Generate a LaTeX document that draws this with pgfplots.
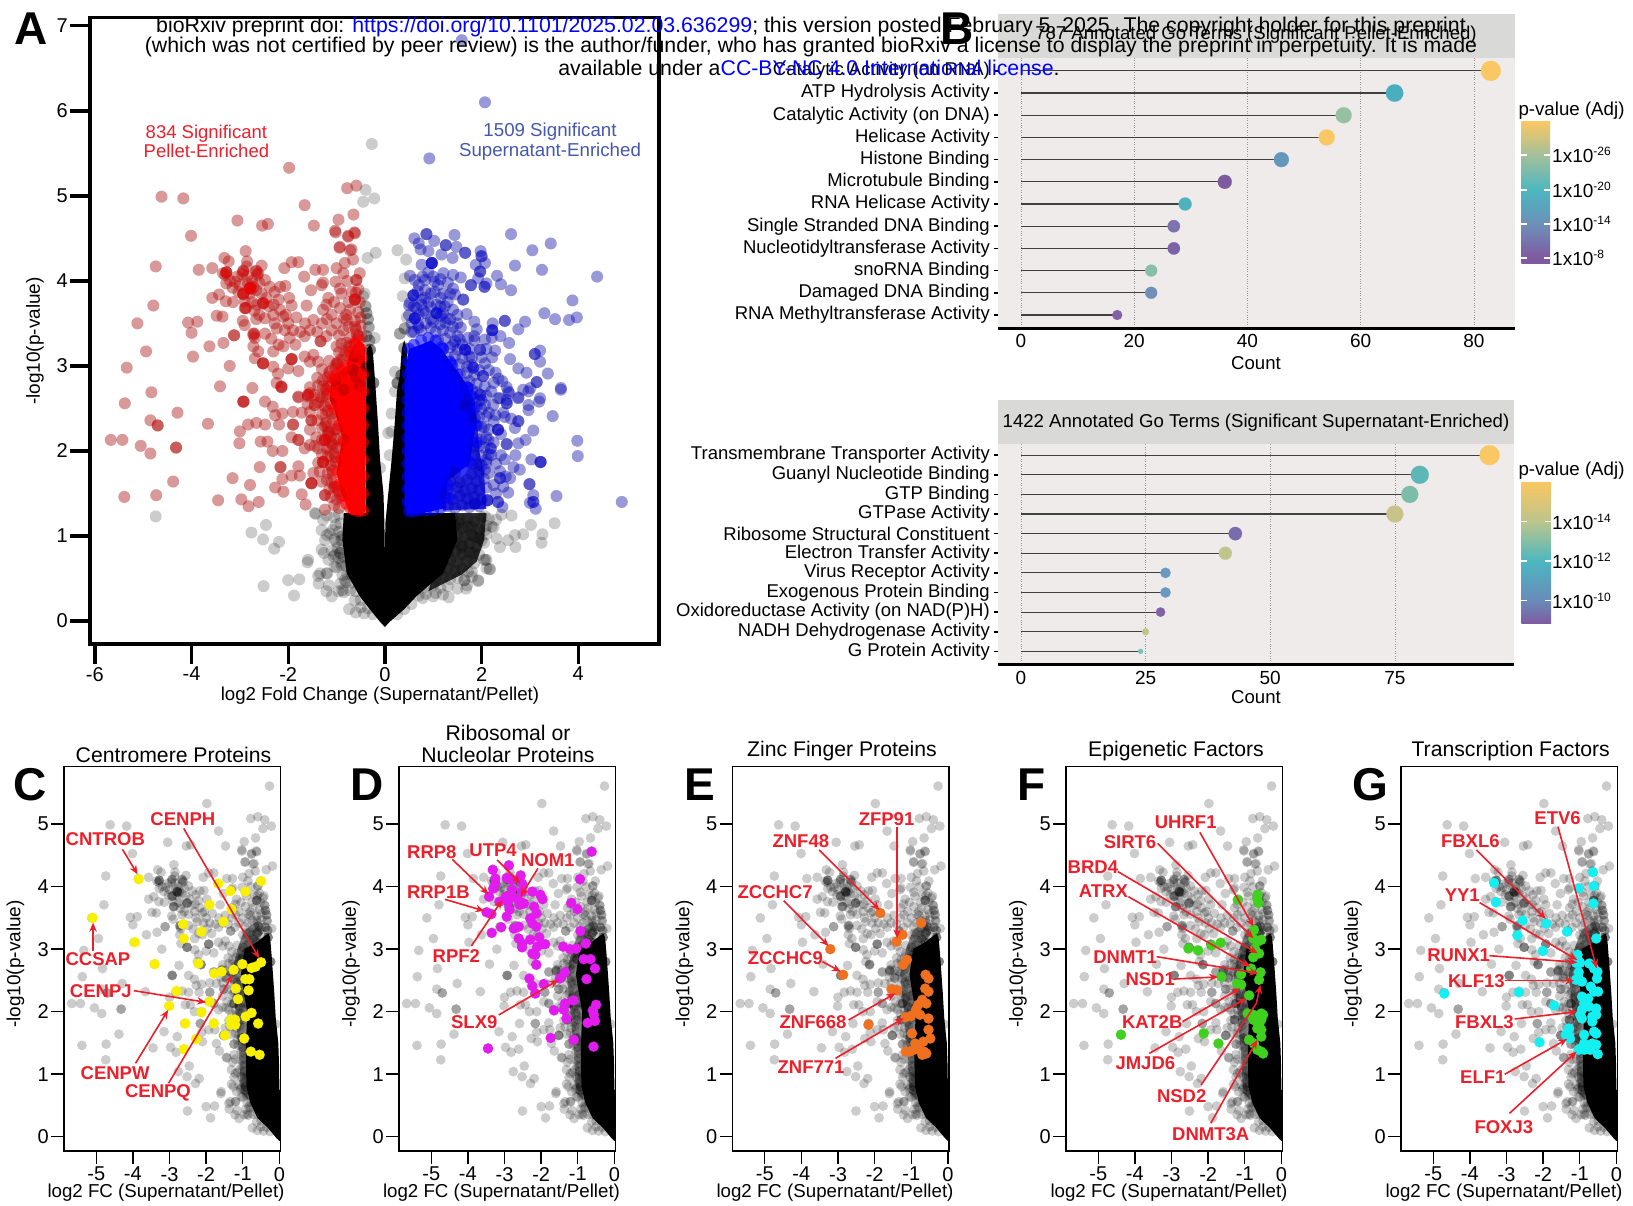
\documentclass[border=0pt]{standalone}
\usepackage{fontspec}
\setmainfont{Liberation Sans}
\usepackage{pgfplots}
\usepackage{pgfplotstable}
\pgfplotsset{compat=1.18}
\usetikzlibrary{arrows.meta}
\definecolor{labred}{HTML}{ED1F2A}
\definecolor{ablue}{HTML}{4458AE}
\definecolor{stripc}{HTML}{D9D9D7}
\definecolor{panelc}{HTML}{EEEBEA}
\definecolor{yel}{HTML}{F9F000}
\definecolor{mag}{HTML}{E21CEE}
\definecolor{ora}{HTML}{EF701E}
\definecolor{gre}{HTML}{40D01E}
\definecolor{cya}{HTML}{14F0F2}
\definecolor{c1}{HTML}{F9C763}\definecolor{c2}{HTML}{4AAEBF}\definecolor{c3}{HTML}{97BFA1}
\definecolor{c4}{HTML}{6398B8}\definecolor{c5}{HTML}{7D5A9E}\definecolor{c6}{HTML}{4EB1BC}
\definecolor{c7}{HTML}{7B74AE}\definecolor{c8}{HTML}{7C62A6}\definecolor{c9}{HTML}{88BFAA}
\definecolor{c10}{HTML}{7090B8}\definecolor{c11}{HTML}{8060A6}
\definecolor{d2}{HTML}{5DB7B6}\definecolor{d3}{HTML}{7CBDA9}\definecolor{d4}{HTML}{C8C489}
\definecolor{d5}{HTML}{7A6DAE}\definecolor{d6}{HTML}{BFC68C}\definecolor{d7}{HTML}{6999BE}
\definecolor{d8}{HTML}{8462A8}\definecolor{d9}{HTML}{70C4BA}
\definecolor{bb}{HTML}{7F5AA0}\definecolor{bc}{HTML}{6C90B8}\definecolor{bd}{HTML}{4CB7C0}\definecolor{be}{HTML}{A5C09A}
\definecolor{bf}{HTML}{BBC58C}\definecolor{bg}{HTML}{6A8ABA}
\pgfdeclareverticalshading{cbone}{100bp}{color(0bp)=(bb);color(27bp)=(bb);color(39bp)=(bc);color(51bp)=(bd);color(63.5bp)=(be);color(75bp)=(c1);color(100bp)=(c1)}
\pgfdeclareverticalshading{cbtwo}{100bp}{color(0bp)=(bb);color(25bp)=(bb);color(33.3bp)=(bg);color(47.3bp)=(bd);color(61.3bp)=(bf);color(75bp)=(c1);color(100bp)=(c1)}
\newcommand\fnt[1]{\fontsize{#1}{#1}\selectfont}

% points
\pgfplotstableread[row sep=crcr]{x y\\
-1.98 5.33\\ -4.62 4.99\\ -4.17 4.97\\ -3.05 4.71\\ -2.54 4.65\\ -2.42 4.67\\ -1.66 4.89\\ -1.47 4.65\\ -.78 5.09\\ -.59 5.12\\ -.65 4.78\\ -.96 4.72\\ -1.03 4.59\\ -.63 4.57\\ -.76 4.52\\ -.94 4.39\\ -.72 4.36\\
-4.01 4.53\\ -4.74 4.17\\ -4.79 3.71\\ -5.12 3.50\\ -4.07 3.51\\ -3.88 3.52\\ -4.0 3.39\\ -4.94 3.17\\ -5.34 2.98\\ -4.83 2.69\\ -5.38 2.56\\ -3.85 4.13\\ -3.57 4.15\\ -3.32 4.27\\ -2.88 4.35\\ -3.23 4.23\\ -2.85 4.23\\ -2.55 4.18\\ -3.28 4.10\\ -3.28 4.10\\ -3.35 4.09\\ -2.93 4.11\\ -2.86 4.17\\ -2.66 4.11\\ -2.62 4.09\\ -3.28 3.97\\ -3.1 3.99\\ -2.83 3.97\\ -2.72 3.93\\ -2.79 3.91\\ -2.48 4.01\\ -3.03 3.87\\ -2.93 3.84\\ -2.79 3.85\\ -2.66 3.89\\ -2.38 3.93\\ -2.28 3.87\\ -2.17 3.93\\ -2.06 3.94\\ -3.57 3.80\\ -3.43 3.84\\ -3.29 3.76\\ -3.14 3.75\\ -2.9 3.68\\ -2.9 3.76\\ -2.66 3.72\\ -2.52 3.73\\ -1.98 3.80\\ -1.93 3.71\\ -1.62 3.71\\ -3.48 3.59\\ -3.36 3.58\\ -2.94 3.53\\ -2.9 3.48\\ -2.66 3.55\\ -2.48 3.56\\ -2.31 3.60\\ -2.17 3.66\\ -2.1 3.58\\ -2.28 3.5\\ -2.24 3.44\\ -1.83 3.57\\ -1.48 3.54\\ -2.72 3.38\\ -2.69 3.33\\ -2.48 3.38\\ -3.12 3.36\\ -3.12 3.36\\ -3.34 3.27\\ -3.63 3.23\\ -3.97 3.11\\ -3.21 3.0\\ -3.41 2.76\\ -2.74 2.74\\ -2.93 2.58\\ -2.93 2.58\\ -2.48 2.58\\ -2.72 3.23\\ -2.62 3.17\\ -2.69 3.09\\ -2.52 3.03\\ -2.52 3.03\\ -2.31 3.17\\ -2.1 3.23\\ -1.97 3.33\\ -2.07 3.42\\ -1.9 3.42\\ -1.93 3.08\\ -1.93 3.08\\ -2.31 2.99\\ -2.21 2.91\\ -1.79 2.94\\ -2 2.97\\ -2.24 2.8\\ -2.14 2.75\\ -2.14 2.75\\ -1.66 3.11\\ -1.48 3.13\\ -1.38 3.05\\ -1.55 3.05\\ -1.66 3.35\\ -1.55 3.42\\ -1.33 3.29\\ -1.33 3.29\\ -1.28 3.66\\ -1.17 3.8\\ -1.21 3.72\\ -1.53 3.89\\ -1.31 3.95\\ -1.28 3.98\\ -1.67 4.05\\ -1.44 4.13\\ -1.28 4.13\\ -2.08 4.15\\ -1.93 4.22\\ -1.79 4.22\\ -1 4.15\\ -.86 4.09\\ -1.02 3.99\\ -.93 3.91\\ -.52 4.09\\ -.59 4.01\\ -.59 4.01\\ -.62 3.78\\ -.62 3.78\\ -.62 3.78\\ -.69 3.87\\ -.93 4.4\\ -.69 4.37\\ -.66 4.25\\ -.83 4.21\\ -1.02 4.57\\ -.76 4.53\\ -.62 4.56\\ -.93 3.68\\ -.79 3.54\\ -.86 3.42\\ -.62 3.46\\ -1.1 3.42\\ -1.21 3.35\\ -.55 3.35\\ -.79 3.27\\ -1 3.23\\ -.62 3.11\\ -.62 3.11\\ -.52 3.11\\ -1.03 2.84\\ -1.03 2.84\\ -1.03 2.84\\ -.66 2.95\\ -.66 2.95\\ -1 3.03\\ -1.28 2.76\\ -1.55 2.68\\ -1.79 2.64\\ -1.59 2.66\\ -1.59 2.66\\ -1.34 2.64\\ -.86 2.72\\ -.52 2.76\\ -.59 2.87\\
-4.29 2.45\\ -4.85 2.36\\ -4.7 2.3\\ -4.7 2.3\\ -3.66 2.32\\ -5.67 2.13\\ -5.43 2.13\\ -5.05 2.06\\ -4.85 1.97\\ -4.32 2.04\\ -4.32 2.04\\ -4.38 1.64\\ -5.39 1.46\\ -4.73 1.48\\ -3.15 1.68\\ -3.45 1.42\\ -2.79 1.6\\ -2.97 1.43\\ -2.82 1.35\\ -2.61 1.40\\ -2.59 1.81\\ -3.01 2.09\\ -3 2.23\\ -2.83 2.31\\ -2.66 2.33\\ -2.48 2.31\\ -2.92 2.58\\ -2.32 2.52\\ -2.27 2.42\\ -2.12 2.44\\ -2.19 2.31\\ -1.9 2.46\\ -1.72 2.45\\ -1.9 2.31\\ -1.9 2.31\\ -2.57 2.11\\ -2.43 2.11\\ -2.32 2.0\\ -2.12 2.0\\ -1.93 2.16\\ -1.79 2.13\\ -1.79 2.13\\ -1.55 2.07\\ -1.66 2.03\\ -2.16 1.81\\ -2.16 1.81\\ -1.79 1.82\\ -1.93 1.71\\ -2.12 1.67\\ -1.76 1.71\\ -1.52 1.62\\ -1.52 1.62\\ -1.52 1.62\\ -2.27 1.57\\ -2.1 1.52\\ -1.72 1.49\\ -1.64 1.37\\ -1.24 1.31\\ -1.24 1.48\\ -1.24 1.48\\ -1.28 1.87\\ -1.28 1.87\\ -1.28 1.87\\ -1.24 2.13\\ -1.24 2.13\\ -1.24 2.13\\ -1.52 2.36\\ -1.52 2.36\\ -1.45 2.54\\ -1.45 2.54\\ -1.59 2.64\\ -1.79 2.63\\ -1.24 2.29\\ -1.17 2.21\\ -1.1 2.09\\ -1.38 2.03\\ -1.03 1.93\\ -1.48 1.74\\ -1.31 1.64\\ -1.03 1.58\\ -1.03 2.25\\ -.86 2.13\\
-3.28 4.1\\ -3.3 4.07\\ -2.93 4.12\\ -2.95 4.08\\ -2.66 4.12\\ -2.64 4.07\\ -2.79 3.92\\ -2.79 3.92\\ -2.79 3.92\\ -2.76 3.9\\ -2.93 3.85\\ -2.93 3.85\\ -2.52 3.74\\ -2.52 3.74\\ -2.88 3.68\\ -2.88 3.68\\ -2.72 3.36\\ -2.7 3.38\\ -2.52 3.03\\ -1.93 3.08\\ -2.14 2.76\\ -3.2 4.0\\ -3.15 3.92\\ -3.05 4.05\\ -3.0 3.95\\ -2.85 4.05\\ -2.75 4.0\\ -2.6 3.98\\ -2.55 3.85\\ -2.45 3.8\\ -2.4 3.7\\ -2.75 3.75\\ -2.7 3.65\\ -2.6 3.6\\ -2.3 3.72\\ -2.2 3.78\\ -2.05 3.6\\ -2.0 3.5\\ -2.35 3.32\\ -2.2 3.25\\ -1.85 3.25\\ -1.75 3.4\\ -1.65 3.5\\ -1.4 3.4\\ -1.3 3.5\\ -1.1 3.6\\ -1.05 3.75\\ -1.2 3.55\\ -1.0 3.5\\ -.9 3.85\\ -.78 4.0\\ -.75 3.75\\ -.8 3.6\\
}\redT

% dense pellet-enriched band
\pgfplotstableread[row sep=crcr]{x y\\
-1.05 1.36\\ -.95 1.33\\ -1.12 1.46\\ -1.0 1.43\\ -.9 1.47\\ -1.15 1.55\\ -1.05 1.57\\ -.95 1.53\\ -1.2 1.66\\ -1.1 1.63\\ -1.35 1.76\\ -1.18 1.74\\ -1.08 1.77\\ -1.38 1.86\\ -1.12 1.83\\ -1.02 1.87\\ -1.3 1.96\\ -1.18 1.94\\ -1.05 1.97\\ -1.45 2.06\\ -1.2 2.03\\ -1.08 2.07\\ -.98 2.04\\ -1.42 2.16\\ -1.3 2.13\\ -1.12 2.17\\ -1.0 2.14\\ -1.55 2.25\\ -1.3 2.27\\ -1.15 2.23\\ -.98 2.26\\ -1.4 2.36\\ -1.22 2.33\\ -1.08 2.37\\ -1.55 2.46\\ -1.3 2.43\\ -1.18 2.47\\ -1.1 2.44\\ -1.6 2.55\\ -1.38 2.57\\ -1.25 2.53\\ -1.12 2.56\\ -1.45 2.66\\ -1.3 2.63\\ -1.2 2.67\\ -1.55 2.75\\ -1.38 2.77\\ -1.22 2.73\\ -1.14 2.76\\ -1.4 2.86\\ -1.28 2.83\\ -1.18 2.87\\ -1.3 2.96\\ -1.15 2.93\\ -1.02 2.97\\ -.9 2.94\\ -1.15 3.06\\ -.98 3.03\\ -.88 3.07\\ -.95 3.16\\ -.82 3.13\\ -.72 3.17\\ -.9 3.26\\ -.75 3.23\\ -.6 3.27\\ -.95 3.36\\ -.72 3.33\\ -.58 3.37\\ -.48 3.34\\ -.75 3.46\\ -.6 3.43\\ -.5 3.47\\ -.85 3.56\\ -.62 3.53\\ -.5 3.57\\ -.72 3.66\\ -.55 3.63\\ -.52 3.75\\ -.55 3.9\\ -.6 3.86\\
}\bandR
\pgfplotstableread[row sep=crcr]{x y\\
-.45 1.3\\ -.55 1.29\\ -.65 1.31\\ -.72 1.33\\ -.8 1.38\\ -.87 1.47\\ -.95 1.6\\ -.98 1.75\\ -.9 1.9\\ -.85 2.1\\ -.95 2.3\\ -1.05 2.5\\ -1.12 2.7\\ -1.08 2.85\\ -.8 3.0\\ -.7 3.15\\ -.55 3.3\\ -.45 1.5\\ -.45 1.7\\ -.45 1.9\\ -.45 2.1\\ -.45 2.3\\ -.45 2.5\\ -.45 2.7\\ -.45 2.9\\ -.47 3.1\\ -.5 3.2\\ -.9 2.95\\ -1 2.9\\ -.62 3.25\\
}\edgeR
\pgfplotstableread[row sep=crcr]{x y\\
-.95 1.25\\ -1.05 1.22\\ -1.2 1.24\\ -.92 1.15\\ -1.02 1.13\\ -.95 1.05\\ -1.08 1.07\\ -.9 .95\\ -1.0 .93\\ -.88 .85\\ -.98 .86\\ -1.1 .83\\ -.85 .75\\ -.95 .74\\ -.8 .65\\ -.9 .66\\ -1 .63\\ -.78 .55\\ -.88 .54\\ -.7 .45\\ -.8 .46\\ -.92 .44\\ -.6 .35\\ -.72 .36\\ -.85 .34\\ -.5 .25\\ -.62 .24\\ -.35 .15\\ -.5 .16\\ -.25 .08\\
}\bandK

\pgfplotstableread[row sep=crcr]{x y\\
1.59 6.83\\ 2.07 6.1\\ .92 5.44\\ 2.61 4.55\\ 3.43 4.44\\ 3.05 4.36\\ 1.44 4.54\\ .86 4.55\\ .86 4.55\\ .61 4.5\\ 1.02 4.47\\ 1.26 4.42\\ 1.26 4.42\\ 1.48 4.4\\ .7 4.44\\ .74 4.37\\ .9 4.35\\ 1.17 4.31\\ 1.4 4.27\\ 1.66 4.33\\ 1.66 4.33\\ 1.98 4.35\\ 2 4.29\\ 2 4.29\\ 2.07 4.21\\ 1.88 4.19\\ 1.97 4.11\\ 1.97 4.11\\ 1.93 4.03\\ .97 4.21\\ .97 4.21\\ .97 4.21\\ .97 4.21\\ .76 4.19\\ 2.32 4.06\\ 2.4 3.96\\ 2.61 3.89\\ 2.69 4.18\\ 3.25 4.13\\ 4.39 4.05\\ 3.88 3.77\\ 3.3 3.62\\ 3.52 3.55\\ 3.81 3.54\\ 3.97 3.57\\ 2.9 3.52\\ 2.76 3.43\\ 2.48 3.53\\ 2.48 3.53\\ 1.69 3.61\\ 1.85 3.52\\ 2.23 3.5\\ 2.22 3.42\\ 2.22 3.42\\ 2.22 3.42\\ 2.21 3.33\\ 2.57 3.27\\ 2.39 3.35\\ 1.9 3.43\\ 1.85 3.35\\ 2.07 3.31\\ .52 4.06\\ .62 4.01\\ .83 4.01\\ 1.03 3.99\\ 1.21 4.09\\ 1.41 4.07\\ 1.57 4.04\\ 1.78 3.95\\ 1.78 3.95\\ 2.06 3.93\\ 2.06 3.93\\ 2.1 3.97\\ .59 3.83\\ .59 3.83\\ .59 3.83\\ .52 3.74\\ .83 3.89\\ .83 3.8\\ 1.03 3.87\\ 1.21 3.85\\ 1.41 3.91\\ 1.45 3.84\\ 1.62 3.78\\ 1.62 3.78\\ 1.07 3.72\\ 1.24 3.7\\ 1.41 3.66\\ .62 3.56\\ .62 3.56\\ .62 3.56\\ .69 3.48\\ 1.07 3.62\\ 1.07 3.62\\ 1.07 3.62\\ 1.28 3.56\\ 1.41 3.46\\ 1.57 3.45\\ 1.72 3.33\\ 1.66 3.19\\ 1.66 3.19\\ 1.66 3.19\\ 1.41 3.25\\ 1.97 3.19\\ 1.97 3.19\\ 2.28 3.18\\ 2.22 3.1\\ 2.07 3.03\\ 3.21 3.18\\ 3.1 3.14\\ 3.1 3.14\\ 3.21 3.05\\ 2.59 3.08\\ 2.76 2.97\\ 2.93 2.92\\ 3.37 2.91\\ 2.29 2.92\\ 2.43 2.82\\ 2.52 2.75\\ 3.14 2.81\\ 3.14 2.81\\ 3.01 2.74\\ 2.86 2.72\\ 3.64 2.74\\ 2.57 2.68\\ 2.76 2.63\\ 2.34 2.62\\ 2.52 2.6\\ 3.21 2.62\\ 1.83 2.98\\ 1.83 2.98\\ 2.03 2.88\\ 2.03 2.88\\ 2.07 2.76\\ 1.97 2.66\\ 1.97 2.66\\
3.64 2.72\\ 2.55 2.7\\ 2.97 2.7\\ 2.76 2.62\\ 2.38 2.62\\ 2.52 2.56\\ 2.52 2.56\\ 2.24 2.54\\ 2.07 2.54\\ 3.19 2.58\\ 2.97 2.54\\ 2.97 2.48\\ 3.47 2.41\\ 2.29 2.42\\ 2.48 2.4\\ 2.61 2.38\\ 2.76 2.35\\ 2.76 2.35\\ 2.69 2.27\\ 3.07 2.24\\ 3.98 2.12\\ 3.99 1.94\\ 2.91 2.13\\ 2.76 2.09\\ 2.34 2.25\\ 2.34 2.25\\ 2.34 2.25\\ 2 2.28\\ 1.86 2.38\\ 1.86 2.38\\ 1.66 2.54\\ 1.66 2.54\\ 2.14 2.13\\ 2.52 2.08\\ 2.52 2.08\\ 2.19 2.03\\ 2.19 2.03\\ 2.7 1.95\\ 2.48 1.9\\ 3.03 1.9\\ 3.22 1.87\\ 3.22 1.87\\ 3.22 1.87\\ 2.66 1.81\\ 2.79 1.78\\ 2.38 1.76\\ 2.38 1.68\\ 2.38 1.68\\ 2.59 1.68\\ 2.99 1.61\\ 2.99 1.61\\ 2.55 1.51\\ 2.45 1.58\\ 3.07 1.48\\ 3.55 1.47\\ 3 1.39\\ 3.07 1.4\\ 3.07 1.4\\ 3.12 1.32\\ 4.9 1.4\\ 2.34 1.4\\ 2.34 1.4\\ 2.43 1.34\\ 2.12 1.42\\ 2.12 1.42\\ 2.12 1.42\\ 1.86 1.38\\ 1.86 1.38\\ 2.07 1.78\\ 2.1 1.9\\
.7 3.95\\ .78 4.05\\ .9 4.1\\ 1.0 4.05\\ 1.1 3.95\\ 1.15 4.02\\ 1.3 3.98\\ .68 3.88\\ .75 3.78\\ .9 3.75\\ .95 3.85\\ 1.15 3.8\\ 1.3 3.75\\ 1.35 3.85\\ .65 3.68\\ .8 3.65\\ .95 3.55\\ 1.15 3.7\\ 1.2 3.62\\ 1.35 3.55\\ 1.5 3.6\\ 1.5 3.5\\ .55 3.4\\ .7 3.45\\ .95 3.45\\ 1.5 3.35\\ 1.6 3.25\\ 1.75 3.2\\ 1.8 3.1\\ 1.85 3.3\\ 2.0 3.1\\ 2.1 3.2\\ 2.15 2.95\\ 1.95 2.95\\ 2.1 2.65\\ 2.2 2.7\\ 2.25 2.8\\ 2.35 2.85\\ 2.0 2.6\\ 2.15 2.45\\ 2.25 2.35\\ 2.4 2.2\\ 2.45 2.45\\ 2.15 2.25\\ 2.25 2.1\\ 2.4 1.95\\ 2.3 1.85\\ 2.25 1.6\\ 2.3 1.5\\ 2.5 1.7\\ 2.2 1.95\\
}\blueT
% dense supernatant-enriched band
\pgfplotstableread[row sep=crcr]{x y\\
1.3 1.35\\ 1.45 1.33\\ 1.6 1.36\\ 1.75 1.34\\ 1.95 1.35\\ 1.25 1.46\\ 1.4 1.43\\ 1.55 1.47\\ 1.7 1.44\\ 1.85 1.46\\ 2.0 1.43\\ 1.3 1.55\\ 1.5 1.57\\ 1.65 1.53\\ 1.8 1.56\\ 1.95 1.54\\ 2.1 1.57\\ 1.35 1.65\\ 1.55 1.63\\ 1.7 1.66\\ 1.9 1.64\\ 2.05 1.67\\ 1.45 1.75\\ 1.8 1.73\\ 1.95 1.76\\ 2.15 1.74\\ 1.8 1.85\\ 1.95 1.84\\ 2.1 1.86\\ 2.0 1.83\\ 1.85 1.95\\ 2.0 1.94\\ 2.15 1.96\\ 1.85 2.05\\ 1.95 2.06\\ 2.05 2.04\\ 1.9 2.15\\ 2.0 2.14\\ 2.1 2.16\\ 1.92 2.3\\ 2.05 2.28\\ 1.95 2.4\\ 2.1 2.41\\ 1.8 2.5\\ 1.9 2.52\\ 2.0 2.49\\ 1.75 2.6\\ 1.85 2.62\\ 1.95 2.59\\ 1.7 2.7\\ 1.8 2.72\\ 1.9 2.69\\ 1.65 2.8\\ 1.75 2.82\\ 1.9 2.79\\ 1.55 2.9\\ 1.7 2.92\\ 1.85 2.89\\ 1.4 3.0\\ 1.55 3.02\\ 1.7 2.99\\ 1.8 3.01\\ 1.3 3.1\\ 1.45 3.12\\ 1.6 3.09\\ 1.75 3.11\\ 1.2 3.2\\ 1.35 3.22\\ 1.5 3.19\\ 1.1 3.3\\ 1.25 3.32\\ 1.45 3.29\\ 1.55 3.31\\ 1.05 3.4\\ 1.2 3.42\\ 1.35 3.39\\ .6 3.4\\ .75 3.42\\ .85 3.5\\ 1.0 3.52\\ 1.15 3.49\\ 1.25 3.51\\ .55 3.5\\ .7 3.6\\ .85 3.62\\ 1.15 3.59\\ .5 3.6\\ .6 3.7\\ .75 3.72\\ .95 3.69\\ .5 3.71\\
}\bandB
\pgfplotstableread[row sep=crcr]{x y\\
.5 1.29\\ .6 1.29\\ .7 1.3\\ .85 1.3\\ 1.0 1.31\\ 1.15 1.33\\ .47 1.4\\ .47 1.55\\ .47 1.7\\ .47 1.85\\ .47 2.0\\ .47 2.15\\ .47 2.3\\ .47 2.45\\ .47 2.6\\ .47 2.75\\ .47 2.9\\ .48 3.05\\ .5 3.2\\ 1.3 1.6\\ 1.75 1.87\\ 1.88 2.3\\ 1.72 2.74\\ 1.38 3.02\\ 1.17 3.22\\ .6 3.25\\ .75 3.3\\ .9 3.33\\ 1.05 3.3\\ 1.2 3.2\\ 1.35 3.05\\ 1.5 2.9\\ 1.7 2.75\\ 1.9 2.1\\ 1.85 2.5\\ 1.78 2.65\\ 1.32 1.45\\
}\edgeB
\pgfplotstableread[row sep=crcr]{x y\\
1.25 1.2\\ 1.4 1.22\\ 1.55 1.19\\ 1.7 1.21\\ 1.85 1.18\\ 2.0 1.22\\ 2.15 1.2\\ 2.3 1.19\\ 1.3 1.1\\ 1.45 1.12\\ 1.6 1.09\\ 1.8 1.11\\ 1.95 1.08\\ 2.1 1.12\\ 2.25 1.1\\ 1.3 1.0\\ 1.5 1.02\\ 1.65 .99\\ 1.8 1.01\\ 1.95 .98\\ 2.1 1.02\\ 1.3 .9\\ 1.45 .92\\ 1.6 .89\\ 1.75 .91\\ 1.9 .88\\ 2.05 .92\\ 1.3 .8\\ 1.45 .82\\ 1.6 .79\\ 1.75 .81\\ 1.95 .78\\ 1.2 .7\\ 1.35 .72\\ 1.5 .69\\ 1.7 .71\\ 1.85 .68\\ 2.05 .72\\ 1.15 .6\\ 1.3 .62\\ 1.45 .59\\ 1.6 .61\\ 1.8 .58\\ 2.1 .62\\ 1.05 .5\\ 1.2 .52\\ 1.35 .49\\ 1.5 .51\\ 1.65 .48\\ 1.8 .52\\ .85 .4\\ 1.0 .42\\ 1.15 .39\\ 1.3 .41\\ 1.5 .38\\ 1.7 .42\\ .7 .3\\ .85 .32\\ 1.0 .29\\ 1.2 .31\\ .25 .08\\ .4 .14\\ .55 .2\\
}\bandKR

\pgfplotstableread[row sep=crcr]{x y\\
-.27 5.61\\ -.4 5.07\\ -.22 4.97\\ -.45 4.93\\ -.36 4.27\\ -.19 4.33\\ -.38 3.62\\ -.38 3.62\\ -.45 3.82\\ -.34 3.46\\ -.21 3.33\\ -.38 3.35\\ -.38 3.35\\ -.31 3.19\\ -.31 3.19\\ -.31 3.19\\ -.38 2.99\\ -.38 2.99\\ -.38 2.99\\ -.24 2.8\\ -.24 2.8\\ -.24 2.8\\ -.1 1.8\\ -.32 3.3\\ -.32 3.3\\ -.33 3.45\\ -.35 3.55\\ -.35 3.55\\ -.4 3.7\\ -.4 3.7\\ -.42 3.85\\
-4.74 1.23\\ -2.46 1.13\\ -2.76 1.04\\ -2.52 .96\\ -2.19 .93\\ -2.29 .85\\ -1.45 1.27\\ -1.28 1.19\\ -1.31 1.07\\ -1.14 1.03\\ -1.24 .95\\ -1.59 .72\\ -1.31 .84\\ -1.03 .78\\ -1.17 .72\\ -.9 .99\\ -.76 1.03\\ -2.0 .48\\ -1.77 .49\\ -2.51 .41\\ -1.88 .3\\ -1.37 .44\\ -1.34 .56\\ -1.19 .56\\ -1.16 .42\\ -1.21 .35\\ -1.1 .29\\ -.88 .36\\ -.74 .14\\ -.83 .48\\ -.7 .56\\ -.43 .09\\ -.92 .8\\ -1.06 .76\\ -.88 .68\\ -1.2 1.01\\ -1.26 .8\\ -1.04 .96\\ -1.38 .53\\ -1.21 .56\\ -1.04 .64\\ -.93 .8\\ -.87 1.01\\ -1.6 .69\\ -1.43 1.26\\ -.96 .35\\ -.6 .1\\
}\grayL

\pgfplotstableread[row sep=crcr]{x y\\
.26 4.36\\ .44 4.25\\ .41 4.03\\ .37 3.82\\ .45 3.57\\ .31 3.38\\ .31 3.38\\ .41 3.44\\ .41 3.44\\ .4 3.21\\ .4 3.21\\ .21 2.93\\ .34 2.89\\ .34 2.89\\ .34 2.89\\ .26 2.8\\ .26 2.8\\ .26 2.8\\ .21 2.7\\ .14 2.44\\ .14 2.23\\ .1 1.95\\ .07 2.21\\
2.62 1.24\\ 2.41 1.25\\ 2.07 1.23\\ 3.02 1.13\\ 3.51 1.15\\ 3.26 1.02\\ 3.24 .92\\ 2.7 .87\\ 2.55 .95\\ 2.69 1.01\\ 2.86 1.02\\ 2.38 .87\\ 2.31 .97\\ 2.07 1.07\\ 2.21 1.11\\ 2 .95\\ 1.72 1.11\\ 1.38 1.15\\ 2.1 .72\\ 2.17 .61\\ 2.17 .61\\ 1.72 .58\\ 1.93 .48\\ 1.83 .8\\ 1.59 .87\\ 1.24 1.03\\ 1.52 1.15\\ 1.86 .99\\ 1.93 .47\\ 1.32 .28\\ 1.68 .38\\ 1.64 .48\\ 2.08 .72\\ 1.05 .33\\ .78 .27\\
}\grayR

\pgfplotstableread[row sep=crcr]{x y\\
-3.84 4.12\\ -5.1 3.5\\ -3.95 3.11\\ -3.41 2.76\\ -2.63 3.4\\ -2.13 3.28\\ -2.61 3.17\\ -1.53 3.44\\ -1.31 3.64\\ -1.91 3.71\\ -1.67 4.05\\ -1.34 3.93\\ -.93 3.92\\ -.5 4.09\\ -2.21 2.77\\ -1.78 2.61\\ -1.58 2.64\\ -1.25 2.67\\ -1.01 2.76\\ -.76 2.7\\ -.65 2.72\\ -.5 2.79\\ -.93 2.52\\ -.82 2.52\\ -1.19 2.37\\ -.84 2.34\\ -1.13 2.2\\ -2.81 2.33\\ -3.01 2.09\\ -1.91 2.16\\ -2.13 1.99\\ -2.57 1.81\\ -1.79 1.81\\ -1.32 1.87\\ -1.21 1.87\\ -1.32 1.79\\ -1.21 1.79\\ -.92 1.92\\ -.76 1.98\\ -.58 1.81\\ -1.49 1.62\\ -.96 1.57\\ -2.27 1.56\\ -2.61 1.4\\ -.78 1.36\\ -.54 1.31\\
}\tC
\pgfplotstableread[row sep=crcr]{x y\\
-.62 4.56\\ -.94 4.12\\ -2.88 4.34\\ -3.32 4.27\\ -2.56 4.18\\ -3.25 4.13\\ -3.25 4.05\\ -3.31 3.97\\ -2.94 4.14\\ -2.8 4.11\\ -2.52 4.05\\ -2.8 3.95\\ -2.97 3.84\\ -3.14 3.76\\ -2.8 3.84\\ -3.42 3.84\\ -2.52 3.92\\ -2.24 3.92\\ -2.02 3.87\\ -1.96 3.8\\ -2.91 3.76\\ -2.86 3.63\\ -2.63 3.79\\ -2.47 3.73\\ -2.58 3.71\\ -2.19 3.68\\ -2.13 3.57\\ -2.3 3.49\\ -2.24 3.41\\ -2.13 3.36\\ -3.49 3.59\\ -3.36 3.56\\ -2.94 3.52\\ -3.35 3.26\\ -3.09 3.35\\ -2.75 3.33\\ -2.61 3.36\\ -2.61 3.17\\ -2.52 3.09\\ -2.52 3.03\\ -2.3 3.15\\ -2.05 3.19\\ -1.98 3.08\\ -1.89 3.08\\ -2.11 3.04\\ -2.24 2.93\\ -2.16 2.91\\ -2.13 2.75\\ -1.18 3.74\\ -1.01 3.64\\ -.93 3.29\\ -.78 3.09\\ -1.4 3.04\\ -1.21 3\\ -1.04 3.01\\ -.84 2.84\\ -.65 2.84\\ -.53 2.69\\ -.76 2.52\\ -1.35 2.63\\ -1.49 2.53\\ -2.32 2.53\\ -2.24 2.41\\ -2.16 2.29\\ -1.93 2.44\\ -1.12 2.18\\ -1.35 2.13\\ -1.38 2.03\\ -1.31 1.89\\ -1.65 2.02\\ -.5 2.11\\ -.59 2.02\\ -.56 1.95\\ -.73 1.82\\ -.53 1.85\\ -1.74 1.58\\ -1.11 1.55\\ -.57 1.44\\ -3.45 1.41\\
}\tD
\pgfplotstableread[row sep=crcr]{x y\\
-1.85 3.58\\ -.73 3.42\\ -1.24 3.23\\ -1.4 3.12\\ -3.21 3\\ -2.86 2.59\\ -1.12 2.83\\ -1.22 2.75\\ -.61 2.59\\ -.53 2.53\\ -.62 2.37\\ -.53 2.32\\ -.7 2.19\\ -.59 2.13\\ -.81 2.11\\ -.87 2.03\\ -1.54 2.36\\ -1.39 2.34\\ -1.16 1.91\\ -1.01 1.93\\ -.76 1.95\\ -.53 1.89\\ -2.17 1.79\\ -.98 1.65\\ -.53 1.71\\ -.48 1.57\\ -.67 1.52\\ -.89 1.49\\ -.81 1.41\\ -1.15 1.36\\ -1.04 1.36\\ -.92 1.39\\ -.65 1.36\\ -.59 1.33\\ -.7 1.31\\
}\tE
\pgfplotstableread[row sep=crcr]{x y\\
-.65 3.87\\ -.66 3.81\\ -.63 3.74\\ -1.19 3.79\\ -.75 3.31\\ -.77 3.17\\ -.55 3.15\\ -.66 3.12\\ -.72 3.01\\ -.61 2.93\\ -.77 2.87\\ -2.54 3.01\\ -2.27 2.98\\ -1.91 3.06\\ -1.66 3.1\\ -.83 2.69\\ -.57 2.63\\ -.61 2.51\\ -1.1 2.6\\ -1.64 2.56\\ -1.21 2.45\\ -1.1 2.43\\ -.88 2.26\\ -.92 1.97\\ -.77 1.95\\ -.55 1.97\\ -.5 1.95\\ -.66 1.89\\ -.77 1.87\\ -.55 1.87\\ -.61 1.79\\ -.55 1.71\\ -.66 1.73\\ -.55 1.6\\ -4.38 1.63\\ -2.12 1.65\\ -1.72 1.49\\ -.88 1.55\\ -.75 1.49\\ -.66 1.39\\ -.55 1.36\\ -.5 1.33\\
}\tF
\pgfplotstableread[row sep=crcr]{x y\\
-.64 4.23\\ -3.34 4.06\\ -1.03 3.97\\ -.62 4.01\\ -3.29 3.75\\ -.63 3.73\\ -2.56 3.46\\ -1.92 3.41\\ -2.7 3.22\\ -1.35 3.28\\ -.55 3.17\\ -2.01 2.97\\ -1.06 2.91\\ -1.05 2.83\\ -1.1 2.78\\ -.99 2.78\\ -.74 2.77\\ -.61 2.69\\ -.52 2.64\\ -.53 2.53\\ -1.03 2.63\\ -1.1 2.51\\ -.94 2.48\\ -1.03 2.53\\ -4.7 2.29\\ -2.66 2.31\\ -.7 2.4\\ -.61 2.32\\ -.5 2.32\\ -.94 2.24\\ -.77 2.21\\ -.88 2.13\\ -.75 2.08\\ -1.7 2.1\\ -.94 2.03\\ -.55 2.05\\ -.55 1.95\\ -.66 1.92\\ -.66 1.84\\ -.99 1.95\\ -.94 1.89\\ -1.3 1.73\\ -1.32 1.63\\ -1.38 1.63\\ -1.27 1.57\\ -.88 1.63\\ -.61 1.68\\ -.55 1.65\\ -2.1 1.51\\ -.99 1.41\\ -.88 1.49\\ -.77 1.41\\ -.66 1.49\\ -.55 1.47\\ -1.03 1.39\\ -.88 1.39\\ -.72 1.39\\ -.51 1.32\\
}\tG

\pgfplotsset{
 bigpts/.style={only marks,mark=*,mark size=6,mark options={draw opacity=0,fill=#1,fill opacity=.2}},
 bigptsc/.style={only marks,mark=*,mark size=6,mark options={draw opacity=0,fill=#1,fill opacity=.25}},
 smallpts/.style={only marks,mark=*,mark size=4.9,mark options={draw opacity=0,fill=black,fill opacity=.2}},
 lolli/.style={
  scale only axis,width=516.6pt,
  axis line style={draw=none},
  axis background/.style={fill=panelc},
  xmajorgrids,grid style={dotted,line width=.7pt,black!40},
  tick align=outside,xtick pos=bottom,ytick pos=left,
  xtick style={draw=none},
  ytick style={line width=1.6pt,black},
  major tick length=4.5pt,
  xticklabel style={font=\fnt{19},inner sep=0pt,yshift=-3pt},
  yticklabel style={font=\fnt{18.5},inner sep=0pt,xshift=-3.5pt},
  clip=false,
 },
 stem/.style={xcomb,line width=1.1pt,color=black!75},
}
\newcommand\dotp[4]{\addplot[only marks,mark=*,mark size=#3,mark options={draw=#4,line width=.1pt,fill=#4}] coordinates {(#1,#2)};}

\newcommand\volc[3]{%
\begin{axis}[scale only axis,width=216.5pt,height=384.3pt,at={(#1pt,55pt)},anchor=south west,
 xmin=-5.88,xmax=.03,ymin=-.23,ymax=5.92,
 axis line style={line width=1.4pt},tick style={line width=1.4pt,black},
 tick align=outside,xtick pos=bottom,ytick pos=left,major tick length=13pt,
 xtick={-5,-4,-3,-2,-1,0},xticklabels={-5,-4,-3,-2,-1,0},
 ytick={0,1,2,3,4,5},yticklabels={0,1,2,3,4,5},
 xticklabel style={font=\fnt{20},inner sep=0pt,yshift=-3pt},
 yticklabel style={font=\fnt{20},inner sep=0pt,xshift=-2pt},
]
\addplot[fill=black,draw=none,opacity=.4] coordinates {(-.85,.6)(-1.05,.7)(-1.1,1.3)(-1.2,2)(-1.3,2.6)(-1.15,3.0)(-.95,3.3)(-.6,3.45)(-.45,3.25)(-.8,3)(-1,2.6)(-.85,2)} --cycle;
\addplot[fill=black,draw=none] coordinates {(0,-.07)(-.1,-.01)(-.3,.13)(-.6,.3)(-.8,.55)(-.9,.8)(-.92,1.33)(-.88,2.0)(-1,2.4)(-1.05,2.6)(-.95,3.0)(-.6,3.12)(-.38,3.22)(-.3,3.25)(-.26,3.2)(-.24,3.1)(-.2,2.8)(-.14,2.3)(-.1,1.9)(-.03,1.5)(-.01,1.15)(0,.75)(.05,.75)(.05,-.07)} --cycle;
\addplot[smallpts] table {\grayL};
\addplot[smallpts] table {\bandK};
\addplot[smallpts] table {\edgeR};
\addplot[smallpts] table {\bandR};
\addplot[smallpts] table {\redT};
\addplot[only marks,mark=*,mark size=5.1,mark options={draw=#2,line width=.1pt,fill=#2}] table {#3};
\end{axis}}

\begin{document}
\begin{tikzpicture}[x=1pt,y=1pt,
 arr/.style={-{Stealth[length=9pt,width=7.5pt]},line width=1.6pt,color=labred},
 lab/.style={font=\fnt{18.5}\bfseries,text=labred,inner sep=0pt},
 plet/.style={font=\fnt{46}\bfseries,inner sep=0pt,anchor=center}]
\path[use as bounding box] (0,0) rectangle (1633,1206);

% ---------- A
\begin{axis}[scale only axis,width=569pt,height=626.7pt,at={(90pt,562pt)},anchor=south west,
 xmin=-6.1,xmax=5.67,ymin=-.27,ymax=7.1,
 axis line style={line width=3.2pt},tick style={line width=3.4pt,black},
 tick align=outside,xtick pos=bottom,ytick pos=left,major tick length=20pt,
 xtick={-6,-4,-2,0,2,4},xticklabels={-6,-4,-2,0,2,4},
 ytick={0,1,2,3,4,5,6,7},yticklabels={0,1,2,3,4,5,6,7},
 xticklabel style={font=\fnt{20},inner sep=0pt,yshift=-3pt},
 yticklabel style={font=\fnt{20},inner sep=0pt,xshift=-2pt},
]
\addplot[fill=black,draw=none,opacity=.8] coordinates {(1.4,1.27)(2.1,1.27)(2.05,.95)(1.9,.7)(1.6,.55)(1.25,.45)(.9,.35)} --cycle;
\addplot[fill=black,draw=none] coordinates {(0,-.07)(-.1,-.01)(-.3,.13)(-.52,.29)(-.79,.56)(-.88,.95)(-.85,1.27)(-.4,1.27)(-.38,3.2)(-.3,3.25)(-.26,3.2)(-.24,3.1)(-.2,2.8)(-.14,2.3)(-.1,1.9)(-.03,1.5)(-.01,1.15)(0,.75)(.01,1.15)(.07,1.5)(.14,1.9)(.2,2.3)(.25,2.7)(.31,2.9)(.35,3.2)(.4,3.3)(.46,3.2)(.46,1.27)(1.45,1.27)(1.5,.95)(1.2,.56)(.65,.29)(.4,.14)(.1,-.01)} --cycle;
\addplot[bigpts=black] table {\grayL};
\addplot[bigpts=black] table {\grayR};
\addplot[bigpts=black] table {\bandK};
\addplot[bigpts=black] table {\bandKR};
\addplot[bigpts=black] table {\redT};
\addplot[bigpts=black] table {\bandR};
\addplot[bigpts=black] table {\blueT};
\addplot[bigpts=black] table {\bandB};
\addplot[fill=red,draw=none,opacity=.4] coordinates {(-1.0,1.4)(-1.2,1.7)(-1.25,2.0)(-1.35,2.5)(-1.25,2.95)(-.9,3.2)(-.6,3.4)(-.5,1.3)} --cycle;
\addplot[fill=red,draw=none] coordinates {(-.69,1.25)(-.45,1.25)(-.4,1.3)(-.39,2.9)(-.42,3.25)(-.55,3.3)(-.7,3.2)(-.8,3.0)(-1.1,2.85)(-1.14,2.6)(-1.05,2.5)(-.88,2.15)(-1.0,1.75)(-.9,1.5)(-.75,1.3)} --cycle;
\addplot[fill=blue,draw=none,opacity=.8] coordinates {(1.2,1.3)(2.1,1.32)(2.05,1.75)(1.95,2.0)(1.9,2.4)(1.85,2.6)(1.5,2.95)(1.25,3.05)} --cycle;
\addplot[fill=blue,draw=none] coordinates {(.41,1.35)(.46,1.25)(.8,1.27)(1.25,1.33)(1.3,1.65)(1.75,1.85)(1.9,2.35)(1.72,2.76)(1.38,3.03)(1.17,3.2)(.95,3.3)(.75,3.25)(.5,3.2)(.41,2.9)} --cycle;
\addplot[bigptsc=red] table {\redT};
\addplot[bigptsc=red] table {\bandR};
\addplot[bigptsc=red] table {\edgeR};
\addplot[bigptsc=red] table {\edgeR};
\addplot[bigptsc=red] table {\edgeR};
\addplot[bigptsc=blue] table {\blueT};
\addplot[bigptsc=blue] table {\bandB};
\addplot[bigptsc=blue] table {\edgeB};
\addplot[bigptsc=blue] table {\edgeB};
\addplot[bigptsc=blue] table {\edgeB};
\end{axis}
\node[font=\fnt{18.5},text=labred] at (206.4,1072.3) {834 Significant};
\node[font=\fnt{18.5},text=labred] at (206.4,1055) {Pellet-Enriched};
\node[font=\fnt{18.7},text=ablue] at (550,1074.7) {1509 Significant};
\node[font=\fnt{18.7},text=ablue] at (550,1054.7) {Supernatant-Enriched};
\node[rotate=90,font=\fnt{19}] at (35,865) {-log10(p-value)};
\node[font=\fnt{18.65}] at (380,510) {log2 Fold Change (Supernatant/Pellet)};

% ---------- B upper
\fill[stripc] (998,1148) rectangle (1514.6,1192);
\begin{axis}[lolli,height=269pt,at={(998pt,879pt)},anchor=south west,
 xmin=-4.06,xmax=87.2,ymin=.46,ymax=12.58,
 xtick={0,20,40,60,80},xticklabels={0,20,40,60,80},
 ytick={1,...,12},
 yticklabels={RNA Methyltransferase Activity,Damaged DNA Binding,snoRNA Binding,Nucleotidyltransferase Activity,Single Stranded DNA Binding,RNA Helicase Activity,Microtubule Binding,Histone Binding,Helicase Activity,Catalytic Activity (on DNA),ATP Hydrolysis Activity,Catalytic Activity (on RNA)},
]
\addplot[stem] coordinates {(83,12)(66,11)(57,10)(54,9)(46,8)(36,7)(29,6)(27,5)(27,4)(23,3)(23,2)(17,1)};
\dotp{83}{12}{10}{c1}\dotp{66}{11}{8.7}{c2}\dotp{57}{10}{8}{c3}\dotp{54}{9}{8}{c1}\dotp{46}{8}{7.5}{c4}\dotp{36}{7}{7}{c5}\dotp{29}{6}{6.5}{c6}\dotp{27}{5}{6.2}{c7}\dotp{27}{4}{6.2}{c8}\dotp{23}{3}{6}{c9}\dotp{23}{2}{6}{c10}\dotp{17}{1}{5}{c11}
\end{axis}
\draw[line width=3pt] (998,877.5) -- (1514.6,877.5);
\node[font=\fnt{18.6}] at (1256,1171) {787 Annotated Go Terms (Significant Pellet-Enriched)};
\node[font=\fnt{18.6}] at (1256,843) {Count};
\node[font=\fnt{18.7}] at (1571.5,1095) {p-value (Adj)};
\shade[shading=cbone] (1521.3,942.3) rectangle (1550,1084);
\foreach \yy/\ee in {1051/-26,1016/-20,982/-14,948/-8}{
 \draw[white,line width=1.1pt] (1521.3,\yy) -- +(6,0) (1550,\yy) -- +(-6,0);
 \node[font=\fnt{19},anchor=west,inner sep=0pt] at (1552,\yy) {1x10\raisebox{7pt}{\fnt{12}\ee}};
}

% ---------- B lower
\fill[stripc] (998,762) rectangle (1514,806);
\begin{axis}[lolli,width=516pt,height=219.3pt,at={(998pt,542.7pt)},anchor=south west,
 xmin=-4.6,xmax=98.9,ymin=.39,ymax=11.57,
 xtick={0,25,50,75},xticklabels={0,25,50,75},
 ytick={1,...,11},
 yticklabels={G Protein Activity,NADH Dehydrogenase Activity,Oxidoreductase Activity (on NAD(P)H),Exogenous Protein Binding,Virus Receptor Activity,Electron Transfer Activity,Ribosome Structural Constituent,GTPase Activity,GTP Binding,Guanyl Nucleotide Binding,Transmembrane Transporter Activity},
]
\addplot[stem] coordinates {(94,11)(80,10)(78,9)(75,8)(43,7)(41,6)(29,5)(29,4)(28,3)(25,2)(24,1)};
\dotp{94}{11}{10}{c1}\dotp{80}{10}{9}{d2}\dotp{78}{9}{8.5}{d3}\dotp{75}{8}{8.5}{d4}\dotp{43}{7}{6.7}{d5}\dotp{41}{6}{6.5}{d6}\dotp{29}{5}{5.2}{d7}\dotp{29}{4}{5.2}{d7}\dotp{28}{3}{4.7}{d8}\dotp{25}{2}{3.5}{d6}\dotp{24}{1}{2.5}{d9}
\end{axis}
\draw[line width=3pt] (998,541.2) -- (1514,541.2);
\node[font=\fnt{18.6}] at (1256,783.7) {1422 Annotated Go Terms (Significant Supernatant-Enriched)};
\node[font=\fnt{18.6}] at (1256,509) {Count};
\node[font=\fnt{18.7}] at (1571.5,735.3) {p-value (Adj)};
\shade[shading=cbtwo] (1521.3,582) rectangle (1551,723);
\foreach \yy/\ee in {684.3/-14,645/-12,605.3/-10}{
 \draw[white,line width=1.1pt] (1521.3,\yy) -- +(6,0) (1551,\yy) -- +(-6,0);
 \node[font=\fnt{19},anchor=west,inner sep=0pt] at (1552,\yy) {1x10\raisebox{7pt}{\fnt{12}\ee}};
}

% ---------- C-G
\volc{64}{yel}{\tC}
\volc{399}{mag}{\tD}
\volc{732.5}{ora}{\tE}
\volc{1066}{gre}{\tF}
\volc{1401}{cya}{\tG}
\foreach \xx in {15.5,351,684.5,1018,1353}{\node[rotate=90,font=\fnt{19}] at (\xx,242) {-log10(p-value)};}
\foreach \xx in {166,501.5,835,1169,1504}{\node[font=\fnt{18.7}] at (\xx,13.3) {log2 FC (Supernatant/Pellet)};}
\node[font=\fnt{21.2}] at (173.5,451) {Centromere Proteins};
\node[font=\fnt{21.2}] at (508,473.3) {Ribosomal or};
\node[font=\fnt{21.2}] at (508,451) {Nucleolar Proteins};
\node[font=\fnt{21.2}] at (842,455.3) {Zinc Finger Proteins};
\node[font=\fnt{21.2}] at (1176,455.3) {Epigenetic Factors};
\node[font=\fnt{21.2}] at (1510.7,455.3) {Transcription Factors};

% annotations, coordinates in the zoomed frame of each row
\begin{scope}[shift={(0pt,486pt)},x=.40816pt,y=-.33333pt]
\node[lab] at (448,298) {CENPH}; \draw[arr] (450,325) -- (635,715);
\node[lab] at (258,358) {CNTROB}; \draw[arr] (300,388) -- (337,463);
\node[lab] at (240,718) {CCSAP}; \draw[arr] (228,692) -- (228,608);
\node[lab] at (247,812) {CENPJ}; \draw[arr] (328,812) -- (505,847);
\node[lab] at (282,1058) {CENPW}; \draw[arr] (332,1030) -- (412,870);
\node[lab] at (387,1118) {CENPQ}; \draw[arr] (413,1090) -- (570,765);
\node[lab] at (1058,395) {RRP8}; \draw[arr] (1108,418) -- (1197,523);
\node[lab] at (1208,392) {UTP4}; \draw[arr] (1218,420) -- (1275,490);
\node[lab] at (1342,420) {NOM1}; \draw[arr] (1318,445) -- (1275,530);
\node[lab] at (1074,515) {RRP1B}; \draw[arr] (1090,538) -- (1187,573);
\node[lab] at (1118,707) {RPF2}; \draw[arr] (1155,678) -- (1230,540);
\node[lab] at (1162,905) {SLX9}; \draw[arr] (1222,885) -- (1368,780);
\end{scope}
\begin{scope}[shift={(660pt,486pt)},x=.40816pt,y=-.33333pt]
\node[lab] at (555,297) {ZFP91}; \draw[arr] (581,322) -- (581,655);
\node[lab] at (345,363) {ZNF48}; \draw[arr] (390,390) -- (538,570);
\node[lab] at (282,515) {ZCCHC7}; \draw[arr] (303,542) -- (413,678);
\node[lab] at (307,713) {ZCCHC9}; \draw[arr] (398,725) -- (443,755);
\node[lab] at (375,905) {ZNF668}; \draw[arr] (462,900) -- (577,820);
\node[lab] at (370,1042) {ZNF771}; \draw[arr] (430,1015) -- (597,895);
\end{scope}
\begin{scope}[shift={(1000pt,486pt)},x=.40371pt,y=-.33333pt]
\node[lab] at (460,307) {UHRF1}; \draw[arr] (495,337) -- (628,620);
\node[lab] at (322,365) {SIRT6}; \draw[arr] (390,370) -- (628,655);
\node[lab] at (230,440) {BRD4}; \draw[arr] (292,455) -- (638,700);
\node[lab] at (256,512) {ATRX}; \draw[arr] (318,530) -- (620,740);
\node[lab] at (310,710) {DNMT1}; \draw[arr] (388,710) -- (640,760);
\node[lab] at (372,778) {NSD1}; \draw[arr] (432,777) -- (540,771);
\node[lab] at (377,905) {KAT2B}; \draw[arr] (452,905) -- (595,805);
\node[lab] at (360,1028) {JMJD6}; \draw[arr] (370,1000) -- (610,835);
\node[lab] at (450,1127) {NSD2}; \draw[arr] (498,1095) -- (635,850) -- (645,795);
\node[lab] at (522,1242) {DNMT3A}; \draw[arr] (522,1210) -- (637,960);
\node[lab] at (1381,293) {ETV6}; \draw[arr] (1382,320) -- (1478,745);
\node[lab] at (1165,362) {FBXL6}; \draw[arr] (1180,390) -- (1352,597);
\node[lab] at (1145,526) {YY1}; \draw[arr] (1188,548) -- (1430,720);
\node[lab] at (1136,706) {RUNX1}; \draw[arr] (1212,707) -- (1430,727);
\node[lab] at (1180,782) {KLF13}; \draw[arr] (1250,782) -- (1422,782);
\node[lab] at (1200,905) {FBXL3}; \draw[arr] (1275,897) -- (1430,875);
\node[lab] at (1196,1070) {ELF1}; \draw[arr] (1250,1063) -- (1405,957);
\node[lab] at (1248,1222) {FOXJ3}; \draw[arr] (1262,1180) -- (1428,995);
\end{scope}

% panel letters
\node[plet] at (31,1177.5) {A};
\node[plet] at (957,1177.5) {B};
\node[plet] at (30.5,421) {C};
\node[plet] at (367,421) {D};
\node[plet] at (699.5,421) {E};
\node[plet] at (1032,421) {F};
\node[plet] at (1370.5,421) {G};

% preprint banner
\node[font=\fnt{21.3},inner sep=0pt] at (811,1179) {bioRxiv preprint doi: \textcolor{blue}{https://doi.org/10.1101/2025.02.03.636299}; this version posted February 5, 2025. The copyright holder for this preprint};
\node[font=\fnt{21.3},inner sep=0pt] at (811,1159) {(which was not certified by peer review) is the author/funder, who has granted bioRxiv a license to display the preprint in perpetuity. It is made};
\node[font=\fnt{21.3},inner sep=0pt] at (809,1138) {available under a\textcolor{blue}{CC-BY-NC 4.0 International license}.};
\end{tikzpicture}
\end{document}
